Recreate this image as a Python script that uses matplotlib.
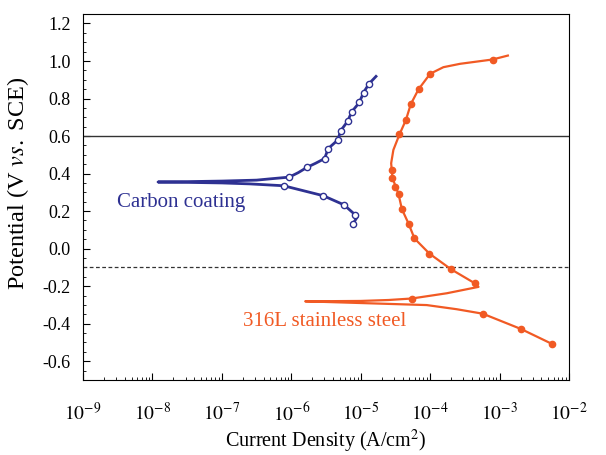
import numpy as np
import matplotlib
matplotlib.use("Agg")
import matplotlib.pyplot as plt
from matplotlib.ticker import LogLocator, MultipleLocator, FuncFormatter, NullFormatter

plt.rcParams['font.family'] = ['Liberation Serif', 'DejaVu Serif']
plt.rcParams['mathtext.fontset'] = 'stix'
plt.rcParams['axes.unicode_minus'] = False

# carbon coating, scan order (log10 current, potential)
carbon_logi = [-5.11, -5.05, -5.08, -5.24, -5.54, -6.11, -6.6, -7.0, -7.5, -7.92,
               -7.5, -7.0, -6.5, -6.3, -6.03, -5.9, -5.77, -5.65, -5.52, -5.47,
               -5.33, -5.29, -5.19, -5.13, -5.02, -4.96, -4.88, -4.78]
carbon_v = [0.133, 0.169, 0.18, 0.233, 0.282, 0.335, 0.345, 0.350, 0.353, 0.355,
            0.357, 0.360, 0.365, 0.372, 0.381, 0.405, 0.434, 0.455, 0.48, 0.533,
            0.579, 0.628, 0.678, 0.729, 0.779, 0.832, 0.879, 0.918]
carbon_mark_logi = [-5.11, -5.08, -5.24, -5.54, -6.11, -6.03, -5.77, -5.52, -5.47,
                    -5.33, -5.29, -5.19, -5.13, -5.02, -4.96, -4.88]
carbon_mark_v = [0.133, 0.18, 0.233, 0.282, 0.335, 0.381, 0.434, 0.48, 0.533,
                 0.579, 0.628, 0.678, 0.729, 0.779, 0.832, 0.879]

# 316L stainless steel
steel_logi = [-2.246, -2.689, -3.242, -3.62, -4.05, -5.01, -5.80,
              -5.0, -4.6, -4.265, -3.76, -3.304, -3.352, -3.70, -4.01, -4.226,
              -4.31, -4.408, -4.456, -4.543, -4.562, -4.53, -4.442, -4.35,
              -4.279, -4.168, -4.0, -3.81, -3.57, -3.102, -2.881]
steel_v = [-0.508, -0.429, -0.347, -0.323, -0.301, -0.29, -0.281,
           -0.279, -0.274, -0.266, -0.238, -0.204, -0.186, -0.11, -0.027, 0.054,
           0.132, 0.211, 0.291, 0.376, 0.455, 0.526, 0.609, 0.685,
           0.77, 0.849, 0.932, 0.967, 0.985, 1.008, 1.029]
steel_mark_logi = [-2.246, -2.689, -3.242, -4.265, -3.352, -3.70, -4.01, -4.226,
                   -4.31, -4.408, -4.456, -4.50, -4.543, -4.55, -4.442, -4.35,
                   -4.279, -4.168, -4.0, -3.102]
steel_mark_v = [-0.508, -0.429, -0.347, -0.266, -0.186, -0.11, -0.027, 0.054,
                0.132, 0.211, 0.291, 0.33, 0.376, 0.42, 0.609, 0.685,
                0.77, 0.849, 0.932, 1.008]

x_decades = [-9, -8, -7, -6, -5, -4, -3, -2]

blue = '#2e3192'
orange = '#f15a24'

fig = plt.figure(figsize=(6.06, 4.55), dpi=100)
ax = fig.add_axes([0.137, 0.165, 0.802, 0.804])

ax.axhline(0.6, color='#333333', lw=1.0)
ax.axhline(-0.1, color='#333333', lw=0.9, ls=(0, (3, 2)))

ax.plot(10 ** np.array(carbon_logi), carbon_v, color=blue, lw=2.0)
ax.plot(10 ** np.array(carbon_mark_logi), carbon_mark_v, 'o', ms=4.5,
        mfc='white', mec=blue, mew=1.0, ls='none')

ax.plot(10 ** np.array(steel_logi), steel_v, color=orange, lw=1.6)
ax.plot(10 ** np.array(steel_mark_logi), steel_mark_v, 'o', ms=4.5,
        color=orange, ls='none')

ax.text(3.1e-9, 0.245, 'Carbon coating', color=blue, fontsize=15, va='center')
ax.text(2.0e-7, -0.39, '316L stainless steel', color=orange, fontsize=15, va='center')

ax.set_xscale('log')
ax.set_xlim(1e-9, 1e-2)
ax.set_ylim(-0.7, 1.25)
ax.set_xticks([10.0 ** d for d in x_decades])
ax.set_xticklabels([r'$10^{%d}$' % d for d in x_decades])
ax.xaxis.set_minor_locator(LogLocator(base=10, subs=np.arange(2, 10), numticks=20))
ax.xaxis.set_minor_formatter(NullFormatter())
ax.yaxis.set_minor_locator(MultipleLocator(0.05))
ax.set_yticks(np.arange(-0.6, 1.21, 0.2))
ax.yaxis.set_major_formatter(FuncFormatter(lambda v, p: '%.1f' % v if abs(v) > 1e-9 else '0.0'))

ax.tick_params(which='both', direction='in', top=False, right=False)
ax.tick_params(which='major', length=5)
ax.tick_params(which='minor', length=2.5)
ax.tick_params(axis='x', labelsize=14, pad=16)
ax.tick_params(axis='y', labelsize=13, pad=9)

ax.set_xlabel('Current Density (A/cm$^2$)', fontsize=14.5, labelpad=2)
ax.set_ylabel('Potential (V $\\mathit{vs.}$ SCE)', fontsize=17.5)
ax.yaxis.set_label_coords(-0.107, 0.537)

fig.savefig('out.png', dpi=100)
